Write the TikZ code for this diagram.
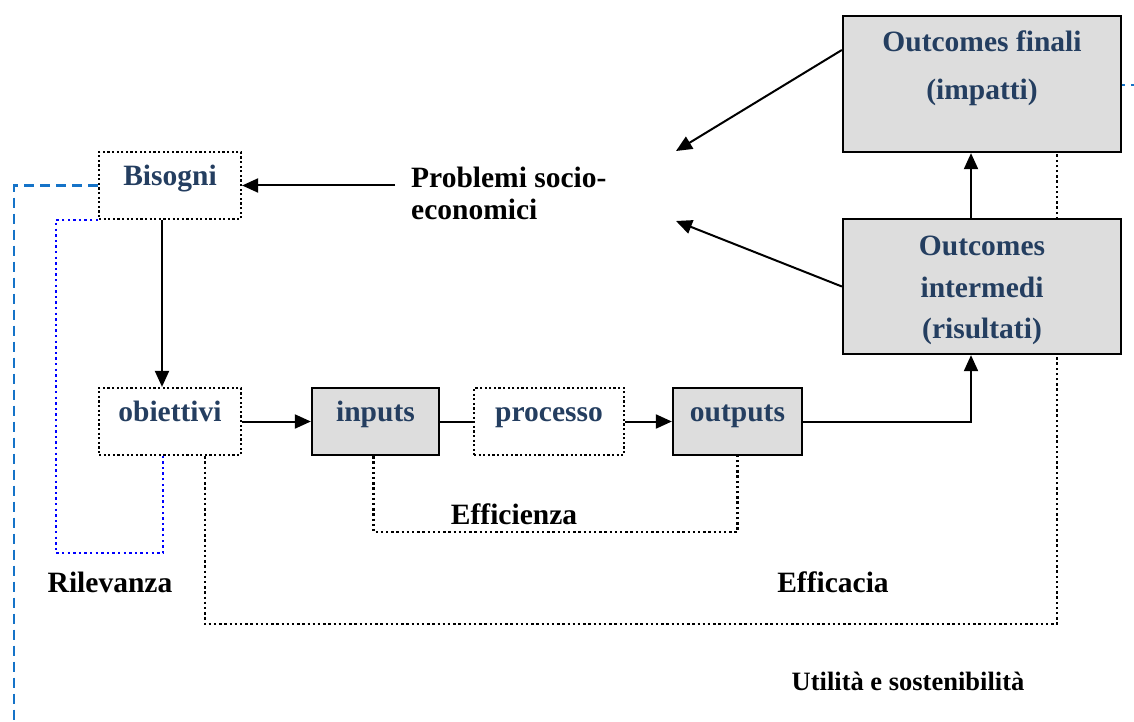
\documentclass[tikz,border=0pt]{standalone}
\usepackage{fontspec}
\setmainfont{Liberation Serif}
\usetikzlibrary{arrows.meta,backgrounds}
\definecolor{navy}{RGB}{36,62,96}
\definecolor{boxgray}{RGB}{221,221,221}
\definecolor{dashblue}{RGB}{21,115,200}
\begin{document}
\begin{tikzpicture}[x=1pt,y=-1pt,
  every node/.style={font=\bfseries\fontsize{29.5}{34}\selectfont},
  solidbox/.style={draw, line width=2.3pt, fill=boxgray, text=navy, inner sep=0pt},
  dotbox/.style={draw, line width=2.2pt, dash pattern=on 2.2pt off 2.4pt, text=navy, inner sep=0pt},
  onebox/.style={minimum height=67pt, text height=19pt, text depth=19pt},
  arr/.style={line width=2pt, -{Triangle[length=16pt,width=14pt]}},
  conn/.style={line width=2pt},
  blkdot/.style={line width=2.6pt, dash pattern=on 2.4pt off 2.8pt},
  bluedot/.style={line width=2.6pt, blue, dash pattern=on 2.4pt off 3.2pt},
  bluedash/.style={line width=2.8pt, dashblue, dash pattern=on 10pt off 6pt},
  lbl/.style={anchor=base, inner sep=0pt},
  lblnavy/.style={anchor=base, inner sep=0pt, text=navy}
]
\useasboundingbox (0,0) rectangle (1134,722);

% boxes
\node[dotbox, onebox, minimum width=142pt] (bis) at (170,185.5) {Bisogni};
\node[dotbox, onebox, minimum width=142pt] (obi) at (170,421.5) {obiettivi};
\node[solidbox, onebox, minimum width=127pt] (inp) at (375.5,421.5) {inputs};
\node[dotbox, onebox, minimum width=150pt] (proc) at (549,421.5) {processo};
\node[solidbox, onebox, minimum width=129pt] (out) at (737.5,421.5) {outputs};
\node[solidbox, minimum width=278pt, minimum height=136pt] (fin) at (982,84) {};
\node[solidbox, minimum width=278pt, minimum height=135pt] (int) at (982,286.5) {};

% texts in outcome boxes
\node[lblnavy] (finA) at (982,52) {Outcomes finali};
\node[lblnavy] (finB) at (982,100) {(impatti)};
\node[lblnavy] (intA) at (982,255) {Outcomes};
\node[lblnavy] (intB) at (982,297) {intermedi};
\node[lblnavy] (intC) at (982,338) {(risultati)};

% problemi
\node[anchor=base west, inner sep=0pt] (prob1) at (411,187) {Problemi socio-};
\node[anchor=base west, inner sep=0pt] (prob2) at (411,219) {economici};

% free arrow ends
\coordinate (pt1) at (676,151);
\coordinate (pt2) at (676,221);

% connectors
\draw[arr] ([xshift=-16pt]prob1.west |- bis.east) -- (bis.east);
\draw[arr] ([xshift=-8pt]bis.south) -- ([xshift=-8pt]obi.north);
\draw[arr] (obi.east) -- (inp.west);
\draw[conn] (inp.east) -- (proc.west);
\draw[arr] (proc.east) -- (out.west);
\draw[arr] (out.east) -| ([xshift=-11pt]int.south);
\draw[arr] ([xshift=-11pt]int.north) -- ([xshift=-11pt]fin.south);
\draw[arr] ([yshift=34pt]fin.west) -- (pt1);
\draw[arr] (int.west) -- (pt2);

% Efficienza
\coordinate (effB) at (555,532);
\draw[blkdot] ([xshift=-2pt]inp.south) |- (effB) -| (out.south);
\node[lbl] (effz) at (514,524) {Efficienza};

% Efficacia
\coordinate (efcB) at (600,624);
\begin{pgfonlayer}{background}
\draw[blkdot] ([xshift=35pt]obi.south) |- (efcB) -| ([xshift=-65pt]fin.south east);
\end{pgfonlayer}
\node[lbl] (efc) at (833,592) {Efficacia};

% Rilevanza
\coordinate (rilL) at (56,553);
\draw[bluedot] (bis.south west) -| (rilL) -| ([xshift=-7pt]obi.south);
\node[lbl] (ril) at (110,592) {Rilevanza};

% Utilita e sostenibilita
\coordinate (utB) at (14,722);
\coordinate (utR) at (1134,85);
\draw[bluedash] (bis.west) -| (utB);
\draw[bluedash, dash pattern=on 3pt off 6pt] (fin.east |- utR) -- (utR);
\node[lbl, font=\bfseries\fontsize{26.5}{30}\selectfont] (ut) at (908,690) {Utilità e sostenibilità};
\end{tikzpicture}
\end{document}
